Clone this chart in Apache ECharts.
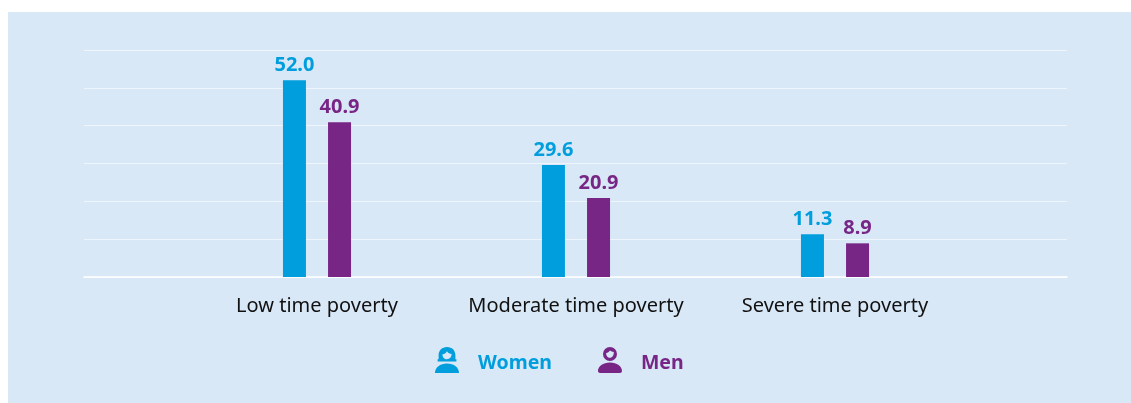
<!DOCTYPE html>
<html>
<head>
<meta charset="utf-8">
<style>
  html, body { margin: 0; padding: 0; background: #fff; }
  #bar { width: 1131px; height: 403px; }
</style>
<script src="https://cdn.jsdelivr.net/npm/echarts@6/dist/echarts.min.js"></script>
</head>
<body>
<div id="bar"></div>
<script>
var categories = ['Low time poverty', 'Moderate time poverty', 'Severe time poverty'];
var women = [52.0, 29.6, 11.3];
var men = [40.9, 20.9, 8.9];

var BLUE = '#009EDD';
var PURPLE = '#772686';
var FONT = '"Noto Sans", "Open Sans", sans-serif';

// legend icons, drawn on a 24x32 box: the last empty subpath keeps 6px free below the figure
var womanIcon = 'path://M12 0C7 0 3.6 3.6 3.6 8V12.2H2.6V14.4H21.4V12.2H20.4V8C20.4 3.6 17 0 12 0Z' +
  'M12 4.2C13 6 15 6.8 16.6 7C16.6 10 14.6 12.2 12 12.2C9.4 12.2 7.4 10 7.4 7.4C9.4 7.2 11 6 12 4.2Z' +
  'M0 26C0 20.2 5 16.4 12 16.4C19 16.4 24 20.2 24 26C24 26 0 26 0 26Z' +
  'M0 32L0 32Z';
var manIcon = 'path://M12 0A7 7 0 1 0 12 14A7 7 0 1 0 12 0Z' +
  'M12 3.4C13 4.2 14.4 4.8 15.8 5C16 8 14.4 10.8 12 10.8C9.6 10.8 8 8.6 8.2 6C9.6 5.8 11 4.8 12 3.4Z' +
  'M0 24C0 19 5 15.4 12 15.4C19 15.4 24 19 24 24C24 25.2 23 26 22 26H2C1 26 0 25.2 0 24Z' +
  'M0 32L0 32Z';

const myChart = echarts.init(document.getElementById('bar'));
const option = {
  backgroundColor: '#fff',
  animation: false,
  textStyle: { fontFamily: FONT },
  graphic: [{
    type: 'rect',
    z: -10,
    shape: { x: 8, y: 12, width: 1123, height: 391 },
    style: { fill: '#D9E8F7' }
  }],
  legend: {
    left: 430,
    top: 342,
    itemWidth: 24,
    itemHeight: 32,
    itemGap: 46,
    selectedMode: false,
    data: [
      { name: 'Women', icon: womanIcon, textStyle: { color: BLUE } },
      { name: 'Men', icon: manIcon, textStyle: { color: PURPLE } }
    ],
    textStyle: { fontFamily: FONT, fontSize: 19.5, fontWeight: 'bold', padding: [0, 0, 0, 14] }
  },
  // 网格线用全宽的grid,柱子用居中的grid
  grid: [
    { left: 84, width: 983, top: 50, height: 227 },
    { left: 187.5, width: 777, top: 50, height: 227 }
  ],
  xAxis: [
    {
      gridIndex: 0,
      type: 'category',
      data: [''],
      axisLine: { show: true, lineStyle: { color: '#fff', width: 1.5 } },
      axisTick: { show: false },
      axisLabel: { show: false }
    },
    {
      gridIndex: 1,
      type: 'category',
      data: categories,
      axisLine: { show: false },
      axisTick: { show: false },
      axisLabel: { interval: 0, color: '#111', fontFamily: FONT, fontSize: 20, margin: 19 }
    }
  ],
  yAxis: [
    {
      gridIndex: 0,
      type: 'value',
      min: 0,
      max: 60,
      interval: 10,
      axisLine: { show: false },
      axisTick: { show: false },
      axisLabel: { show: false },
      splitLine: { lineStyle: { color: '#EEF5FC', width: 1 } }
    },
    {
      gridIndex: 1,
      type: 'value',
      min: 0,
      max: 60,
      interval: 10,
      show: false
    }
  ],
  series: [
    {
      name: 'Women',
      type: 'bar',
      xAxisIndex: 1,
      yAxisIndex: 1,
      barWidth: 23,
      barGap: '96%',
      data: women,
      itemStyle: { color: BLUE },
      label: {
        show: true,
        position: 'top',
        distance: 5,
        color: BLUE,
        fontFamily: FONT,
        fontSize: 20,
        fontWeight: 'bold',
        formatter: function (p) { return p.value.toFixed(1); }
      }
    },
    {
      name: 'Men',
      type: 'bar',
      xAxisIndex: 1,
      yAxisIndex: 1,
      barWidth: 23,
      data: men,
      itemStyle: { color: PURPLE },
      label: {
        show: true,
        position: 'top',
        distance: 5,
        color: PURPLE,
        fontFamily: FONT,
        fontSize: 20,
        fontWeight: 'bold',
        formatter: function (p) { return p.value.toFixed(1); }
      }
    }
  ]
};
myChart.setOption(option);
window.addEventListener('resize', function () {
  myChart.resize();
});
</script>
</body>
</html>
